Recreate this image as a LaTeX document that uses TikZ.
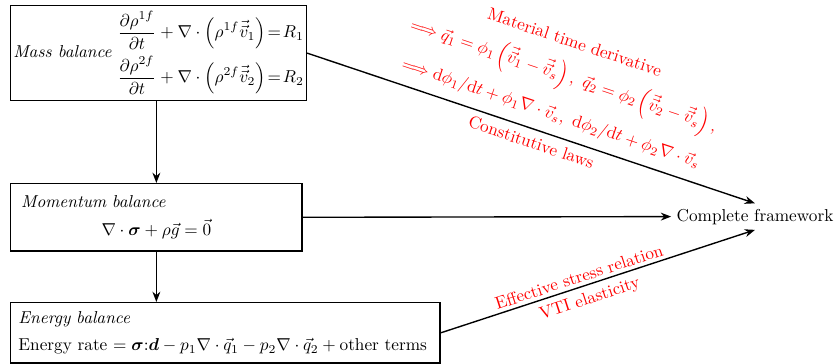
\documentclass[tikz,border=0pt]{standalone}
\usepackage{amsmath,bm}
\usetikzlibrary{arrows.meta}
\begin{document}
\begin{tikzpicture}[x=0.58pt,y=-0.58pt,
  box/.style={draw,thick,rectangle,anchor=north west},
  arr/.style={-{Stealth[length=6pt,width=4.6pt]},thick},
  lbl/.style={text=red,sloped,inner sep=2pt}]
\useasboundingbox (0,0) rectangle (837,364);
\node[box,minimum width=170pt,minimum height=55pt,inner xsep=1.5pt,inner ysep=2pt] (mass) at (10,5)
  {\textit{Mass balance}\,\,$\begin{aligned}
   \frac{\partial\rho^{1f}}{\partial t}+\nabla\cdot\left(\rho^{1f}\vec{\vec{v}}_1\right)&\!=\!R_1\\
   \frac{\partial\rho^{2f}}{\partial t}+\nabla\cdot\left(\rho^{2f}\vec{\vec{v}}_2\right)&\!=\!R_2
  \end{aligned}$};
\node[box,minimum height=39pt,text width=157pt,inner sep=6pt,align=left] (mom) at (10,183)
  {\textit{Momentum balance}\par\vspace{4pt}\centering $\nabla\cdot\bm{\sigma}+\rho\vec{g}=\vec{0}$\par};
\node[box,minimum height=35pt,text width=240pt,inner sep=4.5pt,align=left] (energy) at (10,302)
  {\textit{Energy balance}\par\vspace{4pt}\mbox{Energy rate $=\bm{\sigma}{:}\bm{d}-p_1\nabla\cdot\vec{q}_1-p_2\nabla\cdot\vec{q}_2+\text{other terms}$}\par};
\node[inner sep=3pt] (cf) at (755,216.6) {Complete framework};
\draw[arr] (mass.east) --
  node[lbl,above,pos=0.53,outer ysep=4.5pt,align=center]{Material time derivative\\[8pt]
   $\Longrightarrow\vec{q}_1=\phi_1\left(\vec{\vec{v}}_1-\vec{\vec{v}}_s\right),\ \vec{q}_2=\phi_2\left(\vec{\vec{v}}_2-\vec{\vec{v}}_s\right),$\\[8pt]
   $\Longrightarrow\mathrm{d}\phi_1/\mathrm{d}t+\phi_1\nabla\cdot\vec{v}_s,\ \mathrm{d}\phi_2/\mathrm{d}t+\phi_2\nabla\cdot\vec{v}_s$}
  node[lbl,below,pos=0.51,outer ysep=2pt]{Constitutive laws} (cf.north);
\draw[arr] (mom.east) -- (cf.west);
\draw[arr] (energy.east) --
  node[lbl,above,pos=0.45]{Effective stress relation}
  node[lbl,below,pos=0.46,outer ysep=2pt]{VTI elasticity} (cf.south);
\draw[arr] (mass.south -| mom.north) -- (mom.north);
\draw[arr] (mom.south) -- (mom.south |- energy.north);
\end{tikzpicture}
\end{document}
